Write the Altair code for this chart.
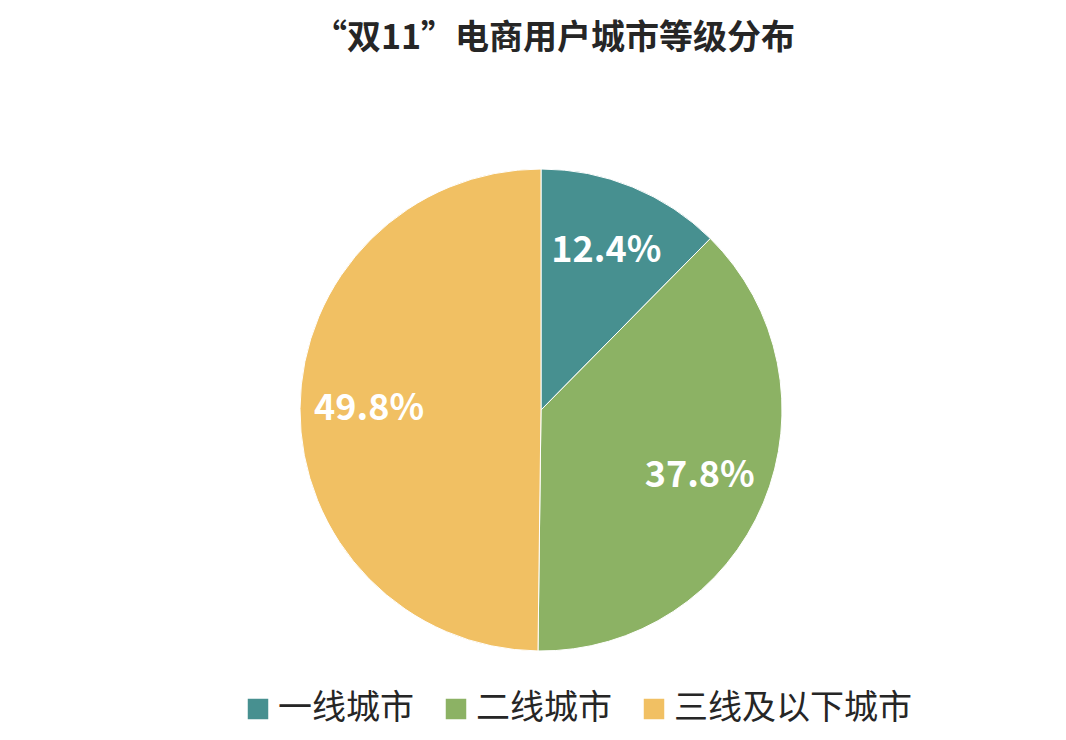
import altair as alt
import pandas as pd

categories = ["一线城市", "二线城市", "三线及以下城市"]
shares = [12.4, 37.8, 49.8]
labels = ["12.4%", "37.8%", "49.8%"]
colors = ["#479090", "#8CB264", "#F1C063"]
order = [0, 1, 2]

df = pd.DataFrame({"category": categories, "share": shares, "label": labels, "order": order})

FONT = "Noto Sans CJK SC"
CX, CY = 533, 332

base = alt.Chart(df).encode(
    theta=alt.Theta("share:Q", stack=True),
    order=alt.Order("order:Q"),
)

arc = base.mark_arc(outerRadius=241, stroke="white", strokeWidth=1).encode(
    color=alt.Color(
        "category:N",
        sort=categories,
        scale=alt.Scale(domain=categories, range=colors),
        legend=alt.Legend(
            title=None,
            orient="none",
            legendX=233,
            legendY=614,
            direction="horizontal",
            symbolType="square",
            symbolSize=420,
            symbolStrokeWidth=0,
            symbolOpacity=1,
            labelFont=FONT,
            labelFontSize=34,
            labelColor="#262626",
            labelOffset=3,
            columnPadding=25,
            labelLimit=400,
        ),
    ),
    x=alt.value(CX),
    y=alt.value(CY),
)

text = base.mark_text(
    radius=172, font=FONT, fontSize=36, fontWeight="bold", color="white"
).encode(
    text="label:N",
    x=alt.value(CX),
    y=alt.value(CY),
)

chart = (
    (arc + text)
    .properties(
        width=1050,
        height=654,
        autosize=alt.AutoSizeParams(type="none"),
        padding={"left": 0, "top": 70, "right": 0, "bottom": 0},
        title=alt.Title(
            "“双11”电商用户城市等级分布",
            font=FONT,
            fontSize=34,
            fontWeight="bold",
            color="#262626",
            anchor="middle",
            dx=21,
            offset=22,
        ),
    )
    .configure_view(stroke=None)
)

chart.save("out.html", embed_options={"renderer": "svg", "actions": False})
